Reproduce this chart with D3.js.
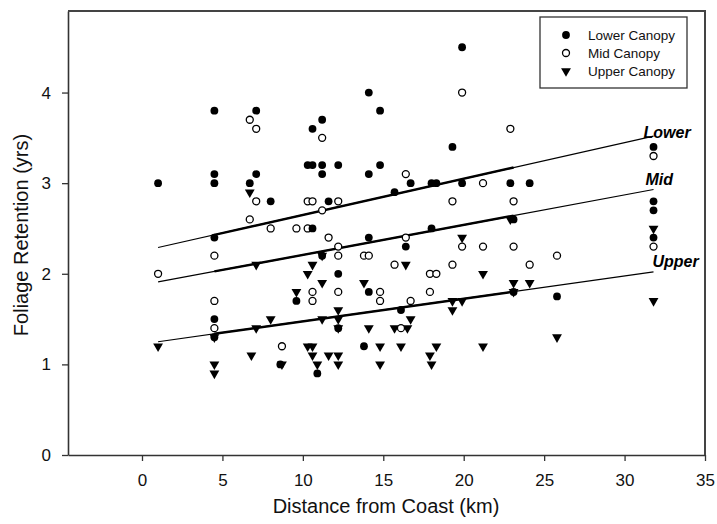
<!DOCTYPE html>
<html>
<head>
<meta charset="utf-8">
<script src="https://cdn.jsdelivr.net/npm/d3@7"></script>
<style>
  body { margin: 0; background: #fff; }
  text { font-family: Arial, "Liberation Sans", sans-serif; }
</style>
</head>
<body>
<div id="chart"></div>
<script>
(function() {

    // distance from coast (km), foliage retention (yrs)
    const lowerX = [1.0, 4.5, 4.5, 4.5, 4.5, 4.5, 4.5, 6.7, 7.1, 7.1, 8.0, 8.6, 9.6, 10.3, 10.6, 10.6, 10.6, 10.9,
                    11.2, 11.2, 11.2, 11.2, 11.6, 12.2, 12.2, 12.2, 13.8, 14.1, 14.1, 14.1, 14.1, 14.8, 14.8, 15.7,
                    16.1, 16.4, 16.7, 18.0, 18.3, 18.0, 19.3, 19.9, 19.9, 22.9, 23.1, 23.1, 24.1, 25.8,
                    31.8, 31.8, 31.8, 31.8]
    const lowerY = [3.0, 3.8, 3.1, 3.0, 2.4, 1.5, 1.3, 3.0, 3.8, 3.1, 2.8, 1.0, 1.7, 3.2, 3.6, 3.2, 2.5, 0.9,
                    3.7, 3.2, 3.1, 2.2, 2.8, 3.2, 2.0, 1.4, 1.2, 4.0, 3.1, 2.4, 1.8, 3.8, 3.2, 2.9,
                    1.6, 2.3, 3.0, 3.0, 3.0, 2.5, 3.4, 4.5, 3.0, 3.0, 2.6, 1.8, 3.0, 1.75,
                    3.4, 2.8, 2.7, 2.4]

    const midX = [1.0, 4.5, 4.5, 4.5, 6.7, 6.7, 7.1, 7.1, 8.0, 8.7, 9.6, 10.3, 10.3, 10.6, 10.6, 10.6, 11.2, 11.2,
                  11.6, 12.2, 12.2, 12.2, 12.2, 13.8, 14.1, 14.8, 14.8, 15.7, 16.1, 16.4, 16.4, 16.7, 17.9, 18.3,
                  17.9, 19.3, 19.3, 19.9, 19.9, 21.2, 21.2, 22.9, 23.1, 23.1, 24.1, 25.8, 31.8, 31.8]
    const midY = [2.0, 2.2, 1.7, 1.4, 3.7, 2.6, 3.6, 2.8, 2.5, 1.2, 2.5, 2.8, 2.5, 2.8, 1.8, 1.7, 3.5, 2.7,
                  2.4, 2.8, 2.3, 2.2, 1.8, 2.2, 2.2, 1.8, 1.7, 2.1, 1.4, 3.1, 2.4, 1.7, 2.0, 2.0,
                  1.8, 2.8, 2.1, 4.0, 2.3, 3.0, 2.3, 3.6, 2.8, 2.3, 2.1, 2.2, 3.3, 2.3]

    const upperX = [1.0, 4.5, 4.5, 4.5, 6.7, 6.8, 7.1, 7.1, 8.0, 8.7, 9.6, 10.3, 10.3, 10.6, 10.6, 10.6, 10.9,
                    11.2, 11.2, 11.2, 11.6, 12.2, 12.2, 12.2, 12.2, 12.2, 13.8, 14.1, 14.8, 14.8, 15.7, 16.1,
                    16.4, 16.5, 16.7, 17.9, 18.0, 18.3, 19.3, 19.3, 19.9, 19.9, 21.2, 21.2, 22.9, 23.1, 23.1,
                    24.1, 25.8, 31.8, 31.8]
    const upperY = [1.2, 1.3, 1.0, 0.9, 2.9, 1.1, 2.1, 1.4, 1.5, 1.0, 1.8, 2.0, 1.2, 2.1, 1.2, 1.1, 1.0,
                    2.2, 1.9, 1.5, 1.1, 1.6, 1.5, 1.4, 1.1, 1.0, 1.9, 1.4, 1.2, 1.0, 1.4, 1.2,
                    2.1, 1.4, 1.5, 1.1, 1.0, 1.2, 1.7, 1.6, 2.4, 1.7, 2.0, 1.2, 2.6, 1.9, 1.8,
                    1.9, 1.3, 2.5, 1.7]

    // regression lines: [x, y] at start and end, plus the heavier middle stretch
    const fitNames = ["Lower", "Mid", "Upper"]
    const fitStart = [[1.0, 2.29], [1.0, 1.91], [1.0, 1.25]]
    const fitEnd = [[31.8, 3.52], [31.8, 2.93], [31.8, 2.02]]
    const boldRange = [4.5, 23.1]

    const xTicks = [0, 5, 10, 15, 20, 25, 30, 35]
    const yTicks = [0, 1, 2, 3, 4]
    const legendNames = ["Lower Canopy", "Mid Canopy", "Upper Canopy"]

    const W = 717, H = 524
    const plot = {left: 68, right: 705, top: 11, bottom: 455}

    const svg = d3.select("#chart").append("svg")
                .attr("width", W)
                .attr("height", H)

    const x = d3.scaleLinear().domain([-4.6, 35]).range([plot.left, plot.right])
    const y = d3.scaleLinear().domain([0, 4.9]).range([plot.bottom, plot.top])

    const axisColor = "#333"

    // axes
    const xAxis = svg.append("g")
        .attr("transform", "translate(0," + plot.bottom + ")")
        .call(d3.axisBottom(x).tickValues(xTicks).tickSize(6).tickSizeOuter(0).tickPadding(13))
    const yAxis = svg.append("g")
        .attr("transform", "translate(" + plot.left + ",0)")
        .call(d3.axisLeft(y).tickValues(yTicks).tickFormat(d3.format("d"))
            .tickSize(6).tickSizeOuter(0).tickPadding(11))

    for (const ax of [xAxis, yAxis]) {
        ax.select(".domain").attr("stroke", axisColor).attr("stroke-width", 1.6)
        ax.selectAll(".tick line").attr("stroke", axisColor).attr("stroke-width", 1.3)
        ax.selectAll(".tick text").attr("fill", "#111")
            .style("font-size", "17px").style("font-family", "Arial, 'Liberation Sans', sans-serif")
    }

    // frame top and right
    svg.append("path")
        .attr("d", "M" + plot.left + "," + plot.top + "H" + plot.right + "V" + plot.bottom)
        .attr("fill", "none")
        .attr("stroke", "#444")
        .attr("stroke-width", 2)

    // axis titles
    svg.append("text")
        .attr("x", 386)
        .attr("y", 513)
        .attr("text-anchor", "middle")
        .style("font-size", "20px")
        .attr("fill", "#111")
        .text("Distance from Coast (km)")

    svg.append("text")
        .attr("transform", "translate(28,235) rotate(-90)")
        .attr("text-anchor", "middle")
        .style("font-size", "20px")
        .attr("fill", "#111")
        .text("Foliage Retention (yrs)")

    // fit lines
    const labelDx = [-10, -8, -1]
    const labelDy = [2, -5, -5]
    const line = d3.line().x(d => x(d[0])).y(d => y(d[1]))
    fitNames.forEach((name, i) => {
        const s = fitStart[i], e = fitEnd[i]
        const slope = (e[1] - s[1]) / (e[0] - s[0])
        const at = v => [v, s[1] + (v - s[0]) * slope]
        svg.append("path")
            .attr("d", line([s, e]))
            .attr("stroke", "#000").attr("stroke-width", 1.2).attr("fill", "none")
        svg.append("path")
            .attr("d", line([at(boldRange[0]), at(boldRange[1])]))
            .attr("stroke", "#000").attr("stroke-width", 2.4).attr("fill", "none")
        svg.append("text")
            .attr("x", x(e[0]) + labelDx[i])
            .attr("y", y(e[1]) + labelDy[i])
            .style("font-size", "16px")
            .style("font-weight", "bold")
            .style("font-style", "italic")
            .attr("fill", "#000")
            .text(name)
    })

    // points
    const tri = d3.symbol().type(d3.symbolTriangle).size(42)()
    const pts = svg.append("g")

    pts.selectAll(".upper")
        .data(d3.zip(upperX, upperY))
        .join("path")
        .attr("class", "upper")
        .attr("d", tri)
        .attr("transform", d => "translate(" + x(d[0]) + "," + y(d[1]) + ") rotate(180)")
        .attr("fill", "#000")

    pts.selectAll(".mid")
        .data(d3.zip(midX, midY))
        .join("circle")
        .attr("class", "mid")
        .attr("cx", d => x(d[0]))
        .attr("cy", d => y(d[1]))
        .attr("r", 3.5)
        .attr("fill", "#fff")
        .attr("stroke", "#000")
        .attr("stroke-width", 1.3)

    pts.selectAll(".lower")
        .data(d3.zip(lowerX, lowerY))
        .join("circle")
        .attr("class", "lower")
        .attr("cx", d => x(d[0]))
        .attr("cy", d => y(d[1]))
        .attr("r", 3.9)
        .attr("fill", "#000")

    // legend
    const lg = svg.append("g").attr("transform", "translate(540,17)")
    lg.append("rect")
        .attr("width", 147).attr("height", 71)
        .attr("fill", "#fff").attr("stroke", "#333").attr("stroke-width", 1.3)
    legendNames.forEach((name, i) => {
        const cy = 18 + i * 18
        if (i === 0) {
            lg.append("circle").attr("cx", 26).attr("cy", cy).attr("r", 3.9).attr("fill", "#000")
        } else if (i === 1) {
            lg.append("circle").attr("cx", 26).attr("cy", cy).attr("r", 3.5)
                .attr("fill", "#fff").attr("stroke", "#000").attr("stroke-width", 1.3)
        } else {
            lg.append("path").attr("d", tri)
                .attr("transform", "translate(26," + cy + ") rotate(180)").attr("fill", "#000")
        }
        lg.append("text")
            .attr("x", 48).attr("y", cy + 5)
            .style("font-size", "13.5px")
            .attr("fill", "#111")
            .text(name)
    })

})();
</script>
</body>
</html>
